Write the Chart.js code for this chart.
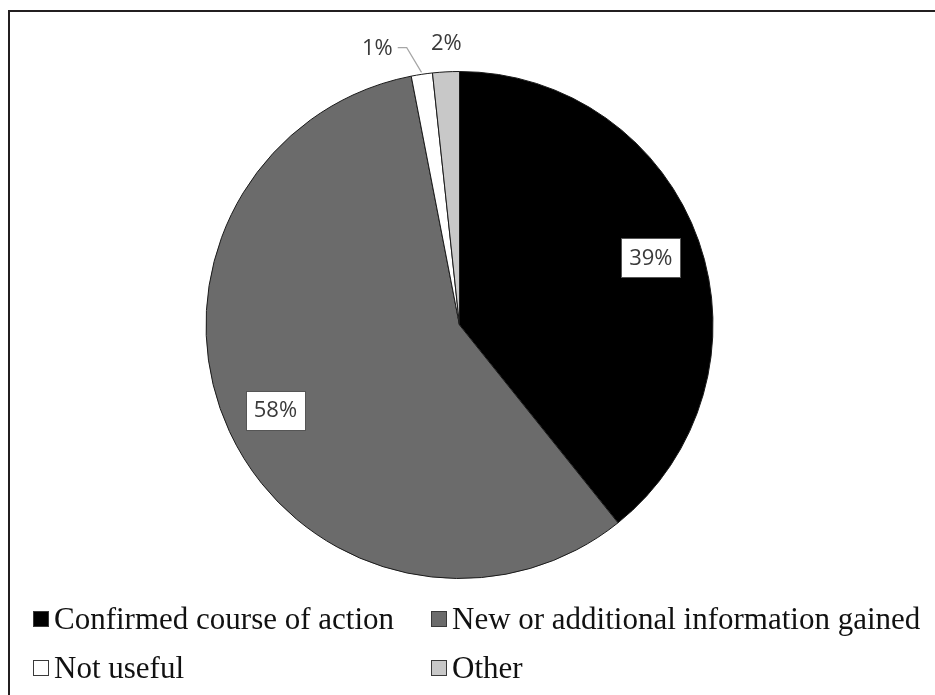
<!DOCTYPE html>
<html>
<head>
<meta charset="utf-8">
<script src="https://cdn.jsdelivr.net/npm/chart.js@4"></script>
<style>
    html, body { margin: 0; padding: 0; background: #fff; }
    #wrap { position: relative; width: 935px; height: 695px; overflow: hidden; }
    #chart-box { position: absolute; left: 0; top: 0; width: 935px; height: 600px; }
    .frame-top { position: absolute; left: 8px; top: 10px; width: 927px; height: 2px; background: #231f20; }
    .frame-left { position: absolute; left: 8px; top: 10px; width: 2px; height: 685px; background: #231f20; }
    #legend {
        position: absolute; left: 33px; top: 594px;
        display: grid; grid-template-columns: 398px auto; grid-auto-rows: 49px;
        font-family: "Liberation Serif", "Times New Roman", serif; font-size: 31px; color: #111;
    }
    .legend-item { display: flex; align-items: center; white-space: nowrap; }
    .legend-box { width: 14px; height: 14px; border: 1.5px solid #3a3a3a; margin-right: 5px; flex: none; }
</style>
</head>
<body>
<div id="wrap">
    <div id="chart-box"><canvas id="pie-chart"></canvas></div>
    <div class="frame-top"></div>
    <div class="frame-left"></div>
    <div id="legend"></div>
</div>
<script>
// =============================
// DATA
// =============================
const categories = ['Confirmed course of action', 'New or additional information gained', 'Not useful', 'Other'];
const shares = [39.25, 57.7, 1.35, 1.7];
const shareLabels = ['39%', '58%', '1%', '2%'];

const sliceColors = ['#000000', '#6b6b6b', '#ffffff', '#c8c8c8'];

// labels placed outside for the thin slices, with a nudge for "1%"
const outsideNudge = { 2: { dx: -40, dy: 4, leader: true }, 3: { dx: 2, dy: 2, leader: false } };

const pieLabels = {
    id: 'pieLabels',
    afterDraw(chart) {
        const ctx = chart.ctx;
        const arcs = chart.getDatasetMeta(0).data;
        ctx.save();
        ctx.font = '22px "Open Sans", sans-serif';
        ctx.textAlign = 'center';
        ctx.textBaseline = 'middle';

        arcs.forEach((arc, i) => {
            const p = arc.getProps(['x', 'y', 'startAngle', 'endAngle', 'outerRadius'], true);
            const mid = (p.startAngle + p.endAngle) / 2;
            const text = shareLabels[i];

            if (shares[i] >= 5) {
                const r = p.outerRadius * 0.8;
                const cx = p.x + Math.cos(mid) * r;
                const cy = p.y + Math.sin(mid) * r;
                const w = Math.round(ctx.measureText(text).width + 16);
                const h = 39;
                const bx = Math.round(cx - w / 2), by = Math.round(cy - h / 2);
                ctx.fillStyle = '#fff';
                ctx.fillRect(bx, by, w, h);
                ctx.strokeStyle = '#555';
                ctx.lineWidth = 1;
                ctx.strokeRect(bx + 0.5, by + 0.5, w, h);
                ctx.fillStyle = '#3a3a3a';
                ctx.fillText(text, cx, cy + 1);
            } else {
                const nudge = outsideNudge[i] || { dx: 0, dy: 0 };
                const r = p.outerRadius + 30;
                const lx = p.x + Math.cos(mid) * r + nudge.dx;
                const ly = p.y + Math.sin(mid) * r + nudge.dy;
                if (nudge.leader) {
                    const ex = p.x + Math.cos(mid) * (p.outerRadius + 2);
                    const ey = p.y + Math.sin(mid) * (p.outerRadius + 2);
                    const tw = ctx.measureText(text).width;
                    ctx.strokeStyle = '#a6a6a6';
                    ctx.lineWidth = 1.2;
                    ctx.beginPath();
                    ctx.moveTo(lx + tw / 2 + 5, ly - 1);
                    ctx.lineTo(lx + tw / 2 + 14, ly - 1);
                    ctx.lineTo(ex, ey);
                    ctx.stroke();
                }
                ctx.fillStyle = '#3a3a3a';
                ctx.fillText(text, lx, ly);
            }
        });
        ctx.restore();
    }
};

function renderLegend() {
    const legend = document.getElementById('legend');
    legend.innerHTML = categories.map((c, i) => `
        <div class="legend-item">
            <span class="legend-box" style="background:${sliceColors[i]};"></span>
            <span>${c}</span>
        </div>
    `).join('');
}

const ctx = document.getElementById('pie-chart').getContext('2d');
new Chart(ctx, {
    type: 'pie',
    data: {
        labels: categories,
        datasets: [{
            data: shares,
            backgroundColor: sliceColors,
            borderColor: '#1a1a1a',
            borderWidth: 1
        }]
    },
    options: {
        responsive: true,
        maintainAspectRatio: false,
        animation: false,
        layout: { padding: { top: 71, bottom: 21, left: 0, right: 16 } },
        plugins: {
            legend: { display: false },
            tooltip: { enabled: false }
        }
    },
    plugins: [pieLabels]
});

renderLegend();
</script>
</body>
</html>
